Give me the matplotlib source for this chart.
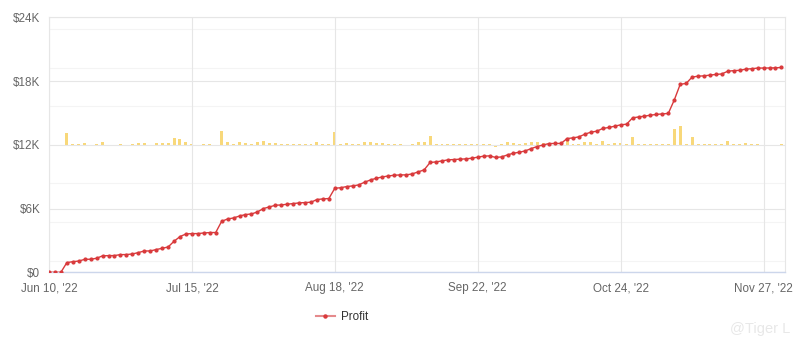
import matplotlib
matplotlib.use("Agg")
from matplotlib import pyplot as plt
from matplotlib.lines import Line2D
import numpy as np

plt.rcParams["font.family"] = ["Liberation Sans", "DejaVu Sans"]

# cumulative profit, one value per point
profit = [
    0, 0, 0, 910, 1000, 1060, 1220, 1230, 1320, 1550,
    1570, 1575, 1665, 1670, 1725, 1855, 2005, 2010, 2140, 2260,
    2380, 2920, 3360, 3610, 3640, 3645, 3700, 3740, 3745, 4800,
    5020, 5115, 5300, 5435, 5490, 5680, 6000, 6150, 6310, 6340,
    6405, 6470, 6530, 6565, 6595, 6850, 6905, 6945, 7910, 7960,
    8070, 8130, 8225, 8480, 8695, 8855, 8975, 9070, 9135, 9165,
    9170, 9260, 9450, 9640, 10335, 10390, 10485, 10580, 10615, 10645,
    10675, 10740, 10835, 10930, 10960, 10810, 10860, 11050, 11210, 11300,
    11430, 11650, 11840, 11990, 12120, 12125, 12130, 12590, 12650, 12750,
    13000, 13190, 13280, 13540, 13630, 13750, 13880, 13940, 14535, 14620,
    14695, 14790, 14855, 14910, 14950, 16210, 17690, 17780, 18370, 18460,
    18490, 18560, 18620, 18670, 18930, 18980, 19010, 19120, 19160, 19220,
    19225, 19230, 19245, 19280,
]

# daily result shown as the small yellow columns
daily = [
    0, 0, 0, 910, 90, 60, 160, 10, 90, 230,
    20, 5, 90, 5, 55, 130, 150, 5, 130, 120,
    120, 540, 440, 250, 30, 5, 55, 40, 5, 1055,
    220, 95, 185, 135, 55, 190, 320, 150, 160, 30,
    65, 65, 60, 35, 30, 255, 55, 40, 965, 50,
    110, 60, 95, 255, 215, 160, 120, 95, 65, 30,
    5, 90, 190, 190, 695, 55, 95, 95, 35, 30,
    30, 65, 95, 95, 30, -150, 50, 190, 160, 90,
    130, 220, 190, 150, 130, 5, 5, 460, 60, 100,
    250, 190, 90, 260, 90, 120, 130, 60, 595, 85,
    75, 95, 65, 55, 40, 1260, 1480, 90, 590, 90,
    30, 70, 60, 50, 260, 50, 30, 110, 40, 60,
    5, 5, 15, 35,
]

tick_idx = [0, 24, 48, 72, 96, 120]
tick_labels = ["Jun 10, '22", "Jul 15, '22", "Aug 18, '22",
               "Sep 22, '22", "Oct 24, '22", "Nov 27, '22"]
y_ticks = [0, 6000, 12000, 18000, 24000]
y_labels = ["$0", "$6K", "$12K", "$18K", "$24K"]

W, H = 805, 356
fig = plt.figure(figsize=(W / 100, H / 100), dpi=100)
ax = fig.add_axes([48.5 / W, 1 - 272.3 / H, (785 - 48.5) / W, (272.3 - 17.3) / H])

x = np.arange(len(profit))

# secondary axis for the daily columns, zero sits on the middle line
ax2 = ax.twinx()
ax2.set_ylim(-9900, 9900)
for v in [3000, 6000, 9000, -3000, -6000, -9000]:
    ax2.axhline(v, color="#f4f4f4", lw=0.8, zorder=0)
ax2.bar(x, daily, width=0.5, color="#f8d87a", zorder=2)
ax2.set_yticks([])
for s in ax2.spines.values():
    s.set_visible(False)

ax.set_zorder(ax2.get_zorder() + 1)
ax.patch.set_visible(False)
ax.plot(x, profit, color="#d93a3c", lw=1.0, marker="o", markersize=2.0, zorder=3)

ax.set_ylim(0, 24000)
ax.set_xlim(-0.08, 123.6)
ax.set_yticks(y_ticks)
ax.set_yticklabels(y_labels)
ax.set_xticks(tick_idx)
ax.set_xticklabels(tick_labels)
ax.tick_params(axis="both", length=0, colors="#666666", labelsize=8.4)
ax.tick_params(axis="x", pad=7)
ax.tick_params(axis="y", pad=6)

ax.grid(True, color="#e6e6e6", lw=0.8)
ax.set_axisbelow(True)
for name, s in ax.spines.items():
    s.set_color("#e6e6e6")
    s.set_linewidth(0.8)
ax.spines["bottom"].set_color("#ccd6eb")
ax.spines["bottom"].set_linewidth(1.0)

handle = Line2D([], [], color="#e58a8c", lw=1.5, marker="o", markersize=2.2,
                markerfacecolor="#d93a3c", markeredgecolor="#d93a3c")
fig.legend([handle], ["Profit"], loc="center", bbox_to_anchor=(342 / W, 1 - 317 / H),
           frameon=False, fontsize=8.4, handlelength=1.6, handletextpad=0.5,
           labelcolor="#333333")

fig.text(730 / W, 1 - 329 / H, "@Tiger L", color="#e8e8e8", fontsize=10.5,
         va="center", ha="left")

fig.savefig("out.png", dpi=100)
